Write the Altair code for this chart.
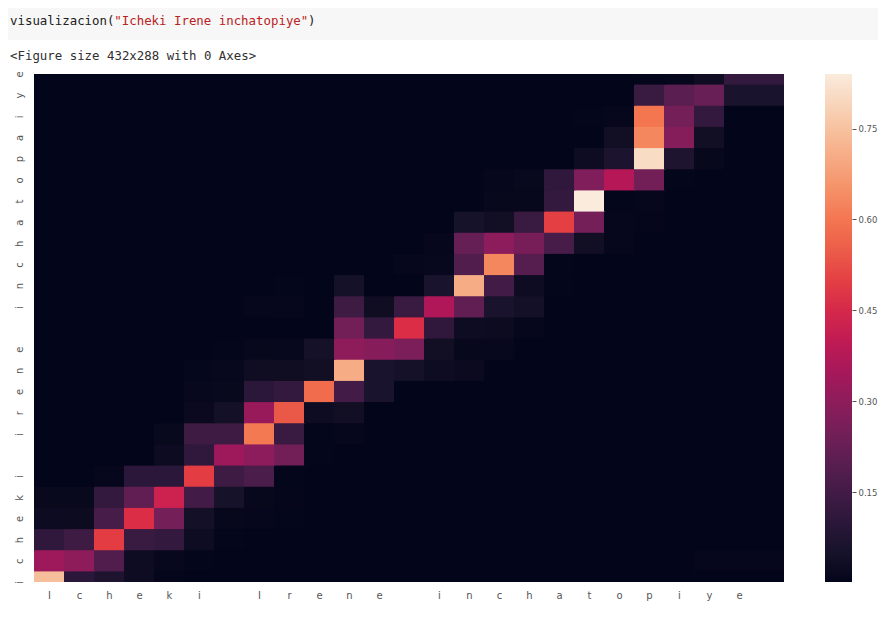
import altair as alt
import pandas as pd

x_chars = ["I","c","h","e","k","i"," ","I","r","e","n","e"," ","i","n","c","h","a","t","o","p","i","y","e",""]
y_chars = ["i","c","h","e","k","i"," ","i","r","e","n","e"," ","i","n","c","h","a","t","o","p","a","i","y","e"]
bar_ticks = [0.15, 0.30, 0.45, 0.60, 0.75]
rocket = ["#03051a","#35193e","#701f57","#ad1759","#e13342","#f37651","#f6b48f","#faebdd"]
v_min, v_max = 0.002, 0.84

# sparse cells per row, bottom row first: {column: value}
row00 = {0:.74,1:.10,2:.07,3:.025,4:.006}
row01 = {0:.33,1:.30,2:.18,3:.025,4:.01,5:.005,22:.008,23:.008,24:.008}
row02 = {0:.11,1:.14,2:.495,3:.13,4:.12,5:.025,6:.005}
row03 = {0:.022,1:.02,2:.16,3:.465,4:.25,5:.04,6:.012,7:.008,8:.005}
row04 = {0:.015,1:.015,2:.12,3:.21,4:.43,5:.15,6:.05,7:.012,8:.006}
row05 = {2:.008,3:.10,4:.10,5:.495,6:.14,7:.17,8:.004}
row06 = {4:.022,5:.11,6:.33,7:.295,8:.245,9:.005}
row07 = {4:.015,5:.14,6:.14,7:.605,8:.13,9:.005,10:.008}
row08 = {5:.016,6:.04,7:.32,8:.54,9:.025,10:.035}
row09 = {5:.01,6:.015,7:.10,8:.12,9:.58,10:.15,11:.06}
row10 = {5:.007,6:.01,7:.03,8:.03,9:.035,10:.705,11:.06,12:.045,13:.025,14:.018}
row11 = {6:.005,7:.012,8:.01,9:.045,10:.30,11:.285,12:.265,13:.035,14:.012,15:.01}
row12 = {10:.245,11:.12,12:.465,13:.11,14:.025,15:.02,16:.008}
row13 = {7:.008,8:.008,10:.14,11:.03,12:.13,13:.365,14:.21,15:.06,16:.04}
row14 = {8:.005,10:.045,13:.06,14:.705,15:.15,16:.025,17:.005}
row15 = {12:.008,13:.01,14:.18,15:.63,16:.19,17:.005}
row16 = {13:.008,14:.22,15:.295,16:.255,17:.16,18:.035,19:.008}
row17 = {14:.05,15:.035,16:.13,17:.50,18:.25,19:.008,20:.006}
row18 = {15:.012,16:.012,17:.12,18:.84,19:.005,20:.008}
row19 = {15:.008,16:.015,17:.11,18:.27,19:.38,20:.245,21:.005}
row20 = {18:.025,19:.065,20:.805,21:.07,22:.012}
row21 = {19:.035,20:.63,21:.28,22:.035}
row22 = {18:.005,19:.008,20:.60,21:.25,22:.12}
row23 = {20:.13,21:.20,22:.225,23:.06,24:.06}
row24 = {20:.004,21:.008,22:.03,23:.12,24:.12}
rows = [row00,row01,row02,row03,row04,row05,row06,row07,row08,row09,row10,row11,row12,
        row13,row14,row15,row16,row17,row18,row19,row20,row21,row22,row23,row24]

# each cell runs a hair past its right and top edge so that the next cell,
# painted over it, leaves no antialiased seam
cells = pd.DataFrame([
    {"x0": c - 0.5, "x1": c + 0.54, "y0": r - 0.5, "y1": r + 0.555, "v": row.get(c, v_min)}
    for r, row in enumerate(rows) for c in range(25)
])

x_expr = "[" + ",".join(f"'{s}'" for s in x_chars) + "][datum.value]"
y_expr = "[" + ",".join(f"'{s}'" for s in y_chars) + "][datum.value]"
LABEL = "#555555"
color_scale = alt.Scale(domain=[v_min, v_max], range=rocket, nice=False, zero=False)

heat = alt.Chart(cells).mark_rect(clip=True).encode(
    x=alt.X("x0:Q", scale=alt.Scale(domain=[-0.5, 24.5], nice=False, zero=False),
            axis=alt.Axis(values=list(range(25)), labelExpr=x_expr, title=None, grid=False,
                          domain=False, ticks=False, labelFontSize=10, labelColor=LABEL,
                          labelFont="DejaVu Sans", labelPadding=8, labelAngle=0)),
    x2="x1:Q",
    y=alt.Y("y0:Q", scale=alt.Scale(domain=[0, 24], nice=False, zero=False),
            axis=alt.Axis(values=list(range(25)), labelExpr=y_expr, title=None, grid=False,
                          domain=False, ticks=False, labelFontSize=10, labelColor=LABEL,
                          labelFont="DejaVu Sans", labelPadding=10, labelAngle=270,
                          labelAlign="center", labelBaseline="bottom",
                          labelOverlap=False, labelBound=False)),
    y2="y1:Q",
    color=alt.Color("v:Q", scale=color_scale,
                    legend=alt.Legend(type="gradient", orient="none", legendX=791, legendY=0, title=None,
                                      gradientLength=508, gradientThickness=27, labelExpr="''",
                                      values=bar_ticks, gradientStrokeWidth=0)),
)

bar_axis = alt.Chart(pd.DataFrame({"v": bar_ticks})).mark_point(opacity=0).encode(
    x=alt.value(0),
    y=alt.Y("v:Q", scale=alt.Scale(domain=[v_min, v_max], nice=False, zero=False),
            axis=alt.Axis(orient="right", offset=68, values=bar_ticks, format=".2f", title=None,
                          grid=False, domain=False, tickSize=4, tickColor=LABEL, tickWidth=1,
                          labelFontSize=8.5, labelColor=LABEL, labelFont="DejaVu Sans", labelPadding=2)),
)

one = pd.DataFrame({"t": [0]})
code_bg = alt.Chart(one).mark_rect(color="#f7f7f7").encode(
    x=alt.value(-26), x2=alt.value(844), y=alt.value(-67), y2=alt.value(-34))

def line(text, col, px, py):
    return alt.Chart(pd.DataFrame({"t": [text]})).mark_text(
        font="DejaVu Sans Mono", fontSize=12.4, align="left", baseline="middle", color=col
    ).encode(x=alt.value(px), y=alt.value(py), text="t:N")

CHAR = 7.45
X0 = -24
texts = [
    line('visualizacion(', "#202020", X0, -53),
    line('"Icheki Irene inchatopiye"', "#ba2121", X0 + 14 * CHAR, -53),
    line(')', "#202020", X0 + 40 * CHAR, -53),
    line('<Figure size 432x288 with 0 Axes>', "#303030", X0, -18),
]

chart = alt.layer(code_bg, *texts, heat, bar_axis).resolve_scale(y="independent").properties(
    width=750, height=508,
    padding={"left": 26, "top": 66, "right": 94, "bottom": 30},
    autosize=alt.AutoSizeParams(type="none"),
).configure_view(stroke=None)

chart.save("out.html", embed_options={"renderer": "svg", "actions": False})
